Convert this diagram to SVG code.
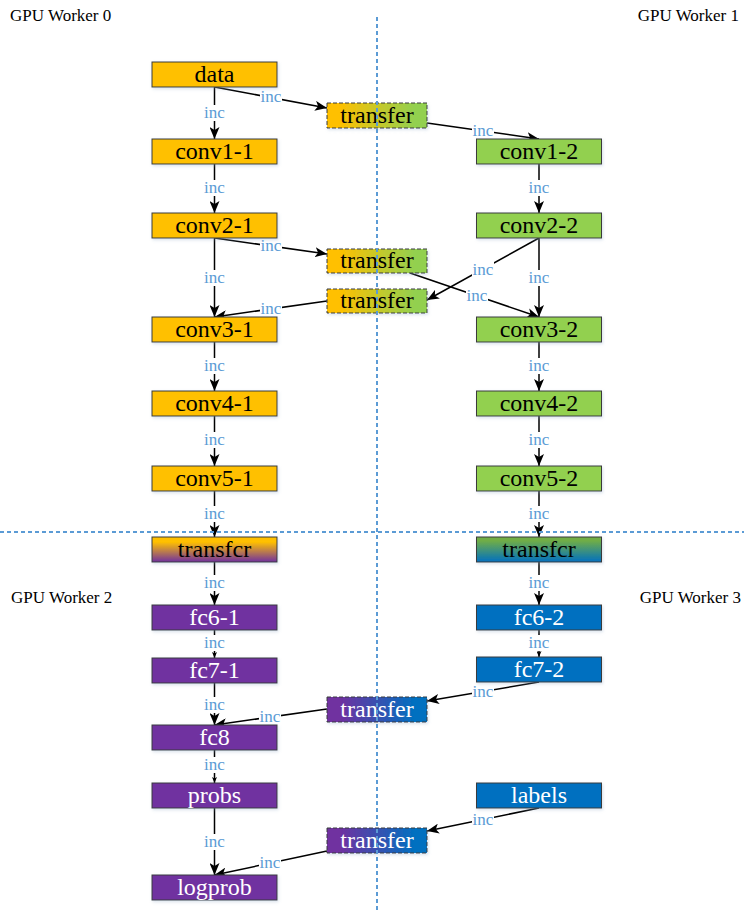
<svg xmlns="http://www.w3.org/2000/svg" width="744" height="910" viewBox="0 0 744 910">
  <defs>
    <style>
      .box{stroke:#3a3a3a;stroke-width:1;filter:url(#sh)}
      .mid{stroke:#3a3a3a;stroke-width:1;stroke-dasharray:4 2;filter:url(#sh)}
      .t{font-size:24px;text-anchor:middle}
      .dk{fill:#000}
      .lt{fill:#fff}
      .or{fill:#FFC000}
      .gr{fill:#92D050}
      .pu{fill:#7030A0}
      .bl{fill:#0070C0}
      .edge{stroke:#000;stroke-width:1.5;fill:none;marker-end:url(#arr)}
      .edge.s{marker-end:url(#arrs)}
      .inc rect{fill:#fff}
      .inc text{font-size:17px;fill:#5B9BD5;text-anchor:middle}
      .worker{font-size:17px;fill:#000}
      .grid{stroke:#5B9BD5;stroke-width:2;stroke-dasharray:4 3;fill:none}
    </style>
    <filter id="sh" x="-10%" y="-30%" width="120%" height="170%">
      <feDropShadow dx="1" dy="1.5" stdDeviation="1.5" flood-color="#8fa8c8" flood-opacity="0.35"/>
    </filter>
    <marker id="arr" viewBox="0 0 12 10" refX="12" refY="5" markerWidth="12" markerHeight="10" markerUnits="userSpaceOnUse" orient="auto">
      <path d="M0,0 L12,5 L0,10 L3,5 Z" fill="#000"/>
    </marker>
    <marker id="arrs" viewBox="0 0 12 10" refX="12" refY="5" markerWidth="6" markerHeight="5" markerUnits="userSpaceOnUse" orient="auto">
      <path d="M0,0 L12,5 L0,10 L3,5 Z" fill="#000"/>
    </marker>
    <linearGradient id="gOG" x1="0" y1="0" x2="1" y2="0">
      <stop offset="0.12" stop-color="#FFC000"/>
      <stop offset="0.88" stop-color="#92D050"/>
    </linearGradient>
    <linearGradient id="gPB" x1="0" y1="0" x2="1" y2="0">
      <stop offset="0.12" stop-color="#7030A0"/>
      <stop offset="0.88" stop-color="#0070C0"/>
    </linearGradient>
    <linearGradient id="gOP" x1="0" y1="0" x2="0" y2="1">
      <stop offset="0.2" stop-color="#FFC000"/>
      <stop offset="1" stop-color="#7030A0"/>
    </linearGradient>
    <linearGradient id="gGB" x1="0" y1="0" x2="0" y2="1">
      <stop offset="0.15" stop-color="#70AD47"/>
      <stop offset="1" stop-color="#0070C0"/>
    </linearGradient>
  </defs>

  <g font-family="Liberation Serif, Times New Roman, serif">
  <!-- worker titles -->
  <text class="worker" x="10" y="21">GPU Worker 0</text>
  <text class="worker" x="739" y="21" text-anchor="end">GPU Worker 1</text>
  <text class="worker" x="11" y="603">GPU Worker 2</text>
  <text class="worker" x="741" y="603" text-anchor="end">GPU Worker 3</text>

  <!-- connectors -->
  <g id="connectors">
    <path class="edge" d="M214.5 87 V139"/>
    <path class="edge" d="M214.5 87 L327 108"/>
    <path class="edge" d="M427 123 L539 139"/>
    <path class="edge" d="M214.5 164 V213"/>
    <path class="edge" d="M539 164 V213"/>
    <path class="edge" d="M214.5 238 L327 254"/>
    <path class="edge" d="M214.5 238 V317"/>
    <path class="edge" d="M327 301 L214.5 317"/>
    <path class="edge" d="M539 238 L427 300"/>
    <path class="edge" d="M410 273 L539 317"/>
    <path class="edge" d="M539 238 V317"/>
    <path class="edge" d="M214.5 342 V391"/>
    <path class="edge" d="M539 342 V391"/>
    <path class="edge" d="M214.5 416 V466"/>
    <path class="edge" d="M539 416 V466"/>
    <path class="edge" d="M214.5 491 V537"/>
    <path class="edge" d="M539 491 V537"/>
    <path class="edge" d="M214.5 562 V605"/>
    <path class="edge" d="M539 562 V605"/>
    <path class="edge s" d="M214.5 630 V658"/>
    <path class="edge s" d="M539 630 V657"/>
    <path class="edge" d="M214.5 683 V725"/>
    <path class="edge" d="M539 682 L427 701"/>
    <path class="edge" d="M327 709 L214.5 725"/>
    <path class="edge s" d="M214.5 750 V783"/>
    <path class="edge" d="M214.5 808 V875"/>
    <path class="edge" d="M539 808 L427 831"/>
    <path class="edge" d="M327 851 L214.5 875"/>

    <!-- edge labels -->
    <g class="inc" transform="translate(214.5,113)"><rect x="-11" y="-8" width="22" height="16"/><text y="5">inc</text></g>
    <g class="inc" transform="translate(271,97)"><rect x="-11" y="-8" width="22" height="16"/><text y="5">inc</text></g>
    <g class="inc" transform="translate(483,131)"><rect x="-11" y="-8" width="22" height="16"/><text y="5">inc</text></g>
    <g class="inc" transform="translate(214.5,188)"><rect x="-11" y="-8" width="22" height="16"/><text y="5">inc</text></g>
    <g class="inc" transform="translate(539,188)"><rect x="-11" y="-8" width="22" height="16"/><text y="5">inc</text></g>
    <g class="inc" transform="translate(271,246)"><rect x="-11" y="-8" width="22" height="16"/><text y="5">inc</text></g>
    <g class="inc" transform="translate(214.5,278)"><rect x="-11" y="-8" width="22" height="16"/><text y="5">inc</text></g>
    <g class="inc" transform="translate(271,309)"><rect x="-11" y="-8" width="22" height="16"/><text y="5">inc</text></g>
    <g class="inc" transform="translate(483,270)"><rect x="-11" y="-8" width="22" height="16"/><text y="5">inc</text></g>
    <g class="inc" transform="translate(477,296)"><rect x="-11" y="-8" width="22" height="16"/><text y="5">inc</text></g>
    <g class="inc" transform="translate(539,278)"><rect x="-11" y="-8" width="22" height="16"/><text y="5">inc</text></g>
    <g class="inc" transform="translate(214.5,366)"><rect x="-11" y="-8" width="22" height="16"/><text y="5">inc</text></g>
    <g class="inc" transform="translate(539,366)"><rect x="-11" y="-8" width="22" height="16"/><text y="5">inc</text></g>
    <g class="inc" transform="translate(214.5,440)"><rect x="-11" y="-8" width="22" height="16"/><text y="5">inc</text></g>
    <g class="inc" transform="translate(539,440)"><rect x="-11" y="-8" width="22" height="16"/><text y="5">inc</text></g>
    <g class="inc" transform="translate(214.5,514)"><rect x="-11" y="-8" width="22" height="16"/><text y="5">inc</text></g>
    <g class="inc" transform="translate(539,514)"><rect x="-11" y="-8" width="22" height="16"/><text y="5">inc</text></g>
    <g class="inc" transform="translate(214.5,583)"><rect x="-11" y="-8" width="22" height="16"/><text y="5">inc</text></g>
    <g class="inc" transform="translate(539,583)"><rect x="-11" y="-8" width="22" height="16"/><text y="5">inc</text></g>
    <g class="inc" transform="translate(214.5,643)"><rect x="-11" y="-8" width="22" height="16"/><text y="5">inc</text></g>
    <g class="inc" transform="translate(539,643)"><rect x="-11" y="-8" width="22" height="16"/><text y="5">inc</text></g>
    <g class="inc" transform="translate(214.5,705)"><rect x="-11" y="-8" width="22" height="16"/><text y="5">inc</text></g>
    <g class="inc" transform="translate(483,692)"><rect x="-11" y="-8" width="22" height="16"/><text y="5">inc</text></g>
    <g class="inc" transform="translate(270,717)"><rect x="-11" y="-8" width="22" height="16"/><text y="5">inc</text></g>
    <g class="inc" transform="translate(214.5,765)"><rect x="-11" y="-8" width="22" height="16"/><text y="5">inc</text></g>
    <g class="inc" transform="translate(214.5,842)"><rect x="-11" y="-8" width="22" height="16"/><text y="5">inc</text></g>
    <g class="inc" transform="translate(483,820)"><rect x="-11" y="-8" width="22" height="16"/><text y="5">inc</text></g>
    <g class="inc" transform="translate(270,863)"><rect x="-11" y="-8" width="22" height="16"/><text y="5">inc</text></g>
  </g>

  <!-- worker 0 -->
  <g id="data"><rect class="box or" x="152" y="62" width="125" height="25"/><text class="t dk" x="214.5" y="81.5">data</text></g>
  <g id="conv1-1"><rect class="box or" x="152" y="139" width="125" height="25"/><text class="t dk" x="214.5" y="158.5">conv1-1</text></g>
  <g id="conv2-1"><rect class="box or" x="152" y="213" width="125" height="25"/><text class="t dk" x="214.5" y="232.5">conv2-1</text></g>
  <g id="conv3-1"><rect class="box or" x="152" y="317" width="125" height="25"/><text class="t dk" x="214.5" y="336.5">conv3-1</text></g>
  <g id="conv4-1"><rect class="box or" x="152" y="391" width="125" height="25"/><text class="t dk" x="214.5" y="410.5">conv4-1</text></g>
  <g id="conv5-1"><rect class="box or" x="152" y="466" width="125" height="25"/><text class="t dk" x="214.5" y="485.5">conv5-1</text></g>

  <!-- worker 1 -->
  <g id="conv1-2"><rect class="box gr" x="476.5" y="139" width="125" height="25"/><text class="t dk" x="539" y="158.5">conv1-2</text></g>
  <g id="conv2-2"><rect class="box gr" x="476.5" y="213" width="125" height="25"/><text class="t dk" x="539" y="232.5">conv2-2</text></g>
  <g id="conv3-2"><rect class="box gr" x="476.5" y="317" width="125" height="25"/><text class="t dk" x="539" y="336.5">conv3-2</text></g>
  <g id="conv4-2"><rect class="box gr" x="476.5" y="391" width="125" height="25"/><text class="t dk" x="539" y="410.5">conv4-2</text></g>
  <g id="conv5-2"><rect class="box gr" x="476.5" y="466" width="125" height="25"/><text class="t dk" x="539" y="485.5">conv5-2</text></g>

  <!-- cross-worker transfers -->
  <g id="transfer-a"><rect class="mid" fill="url(#gOG)" x="327" y="103" width="100" height="25"/><text class="t dk" x="377" y="122.5">transfer</text></g>
  <g id="transfer-b"><rect class="mid" fill="url(#gOG)" x="327" y="249" width="100" height="24"/><text class="t dk" x="377" y="268">transfer</text></g>
  <g id="transfer-c"><rect class="mid" fill="url(#gOG)" x="327" y="289" width="100" height="24"/><text class="t dk" x="377" y="308">transfer</text></g>
  <g id="transfer-d"><rect class="mid" fill="url(#gPB)" x="327" y="697" width="100" height="25"/><text class="t lt" x="377" y="716.5">transfer</text></g>
  <g id="transfer-e"><rect class="mid" fill="url(#gPB)" x="327" y="828" width="100" height="25"/><text class="t lt" x="377" y="847.5">transfer</text></g>

  <!-- hand-off between upper and lower workers -->
  <g id="transfer-left"><rect class="box" fill="url(#gOP)" x="152" y="537" width="125" height="25"/><text class="t dk" x="214.5" y="556.5">transfcr</text></g>
  <g id="transfer-right"><rect class="box" fill="url(#gGB)" x="476.5" y="537" width="125" height="25"/><text class="t dk" x="539" y="556.5">transfcr</text></g>

  <!-- worker 2 -->
  <g id="fc6-1"><rect class="box pu" x="152" y="605" width="125" height="25"/><text class="t lt" x="214.5" y="624.5">fc6-1</text></g>
  <g id="fc7-1"><rect class="box pu" x="152" y="658" width="125" height="25"/><text class="t lt" x="214.5" y="677.5">fc7-1</text></g>
  <g id="fc8"><rect class="box pu" x="152" y="725" width="125" height="25"/><text class="t lt" x="214.5" y="744.5">fc8</text></g>
  <g id="probs"><rect class="box pu" x="152" y="783" width="125" height="25"/><text class="t lt" x="214.5" y="802.5">probs</text></g>
  <g id="logprob"><rect class="box pu" x="152" y="875" width="125" height="25"/><text class="t lt" x="214.5" y="894.5">logprob</text></g>

  <!-- worker 3 -->
  <g id="fc6-2"><rect class="box bl" x="476.5" y="605" width="125" height="25"/><text class="t lt" x="539" y="624.5">fc6-2</text></g>
  <g id="fc7-2"><rect class="box bl" x="476.5" y="657" width="125" height="25"/><text class="t lt" x="539" y="676.5">fc7-2</text></g>
  <g id="labels"><rect class="box bl" x="476.5" y="783" width="125" height="25"/><text class="t lt" x="539" y="802.5">labels</text></g>
  </g>

  <!-- worker boundaries -->
  <g id="boundaries">
    <path class="grid" d="M377 17 V910"/>
    <path class="grid" d="M0 532 H744"/>
  </g>
</svg>
